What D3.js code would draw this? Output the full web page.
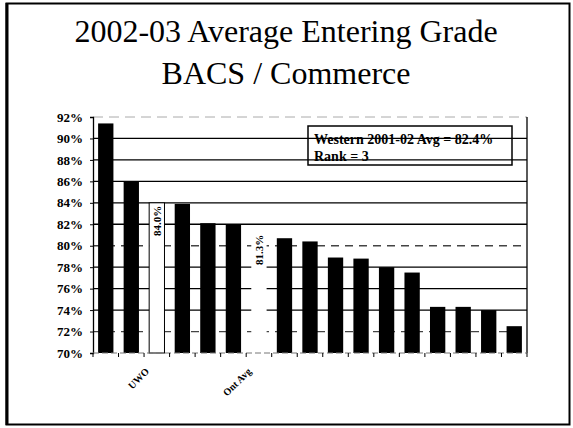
<!DOCTYPE html>
<html>
<head>
<meta charset="utf-8">
<script src="https://cdn.jsdelivr.net/npm/d3@7"></script>
<style>
  body { margin: 0; background: #fff; }
  svg { display: block; }
</style>
</head>
<body>
<script>
// chart data
const labels = ["", "", "UWO", "", "", "", "Ont Avg", "", "", "", "", "", "", "", "", "", ""];
const values = [91.4, 86.0, 84.0, 83.9, 82.1, 82.0, 81.3, 80.7, 80.4, 78.9, 78.8, 78.0, 77.5, 74.3, 74.3, 74.0, 72.5];
const yTicks = [70, 72, 74, 76, 78, 80, 82, 84, 86, 88, 90, 92];
const titleLines = ["2002-03 Average Entering Grade", "BACS / Commerce"];
const noteLines = ["Western 2001-02 Avg = 82.4%", "Rank = 3"];
const highlighted = ["UWO", "Ont Avg"];

const width = 573;
const height = 428;
const plot = { left: 93, right: 527, top: 117, bottom: 353 };
const serif = "'Liberation Serif', 'Times New Roman', serif";

const svg = d3.select("body")
    .append("svg")
    .attr("width", width)
    .attr("height", height);

// slide frame
svg.append("rect")
    .attr("x", 6.5)
    .attr("y", 3.5)
    .attr("width", 563)
    .attr("height", 421)
    .attr("fill", "#fff")
    .attr("stroke", "#000")
    .attr("stroke-width", 2);
svg.append("line")
    .attr("x1", 7).attr("x2", 7)
    .attr("y1", 3).attr("y2", 425)
    .attr("stroke", "#000")
    .attr("stroke-width", 3);

// title
svg.append("g")
    .selectAll("text")
    .data(titleLines)
    .enter()
    .append("text")
    .attr("x", 286)
    .attr("y", (d, i) => 42 + i * 42)
    .attr("text-anchor", "middle")
    .attr("font-family", serif)
    .attr("font-size", 32)
    .attr("fill", "#000")
    .text(d => d);

const x = d3.scaleBand()
    .domain(d3.range(values.length))
    .range([plot.left, plot.right])
    .paddingInner(0.4)
    .paddingOuter(0.2);

const y = d3.scaleLinear()
    .domain([70, 92])
    .range([plot.bottom, plot.top]);

// gridlines
svg.append("g")
    .selectAll("line")
    .data(yTicks.filter(t => t > 70))
    .enter()
    .append("line")
    .attr("x1", plot.left)
    .attr("x2", plot.right)
    .attr("y1", d => y(d))
    .attr("y2", d => y(d))
    .attr("stroke", d => d === 92 ? "#aaa" : (d === 80 || d === 72) ? "#444" : "#000")
    .attr("stroke-width", d => d === 92 ? 1 : 1.3)
    .attr("stroke-dasharray", d => d === 92 ? "10,6" : (d === 80 || d === 72) ? "8,6" : null);

// bars
const isHighlight = i => highlighted.includes(labels[i]);

svg.append("g")
    .selectAll("rect")
    .data(values)
    .enter()
    .append("rect")
    .attr("x", (d, i) => x(i))
    .attr("y", d => y(d))
    .attr("width", x.bandwidth())
    .attr("height", d => y(70) - y(d))
    .attr("fill", (d, i) => isHighlight(i) ? "#fff" : "#000")
    .attr("stroke", (d, i) => labels[i] === "UWO" ? "#000" : "none")
    .attr("stroke-width", 1);

// value labels on the white bars
svg.append("g")
    .selectAll("text")
    .data(values.map((v, i) => ({ v, i })).filter(d => isHighlight(d.i)))
    .enter()
    .append("text")
    .attr("transform", d => `translate(${x(d.i) + x.bandwidth() / 2 + 4},${y(d.v) + 3}) rotate(-90)`)
    .attr("text-anchor", "end")
    .attr("font-family", serif)
    .attr("font-weight", "bold")
    .attr("font-size", 11)
    .text(d => d3.format(".1f")(d.v) + "%");

// y axis
const yAxis = svg.append("g")
    .attr("transform", `translate(${plot.left},0)`)
    .call(d3.axisLeft(y)
        .tickValues(yTicks)
        .tickSize(3)
        .tickPadding(7)
        .tickFormat(d => d + "%"));
yAxis.select(".domain").attr("stroke", "#000").attr("stroke-width", 1.3);
yAxis.selectAll("text")
    .attr("font-family", serif)
    .attr("font-weight", "bold")
    .attr("font-size", 13)
    .attr("fill", "#000");

// right edge of the plot
svg.append("line")
    .attr("x1", plot.right).attr("x2", plot.right)
    .attr("y1", plot.top).attr("y2", plot.bottom)
    .attr("stroke", "#000")
    .attr("stroke-width", 1.3);

// baseline and category ticks
svg.append("line")
    .attr("x1", plot.left).attr("x2", plot.right)
    .attr("y1", y(70)).attr("y2", y(70))
    .attr("stroke", "#777")
    .attr("stroke-width", 1)
    .attr("stroke-dasharray", "6,3");

svg.append("g")
    .selectAll("line")
    .data(d3.range(values.length + 1))
    .enter()
    .append("line")
    .attr("x1", i => plot.left + i * x.step())
    .attr("x2", i => plot.left + i * x.step())
    .attr("y1", y(70))
    .attr("y2", y(70) + 4)
    .attr("stroke", "#000");

// category labels
svg.append("g")
    .selectAll("text")
    .data(labels.map((l, i) => ({ l, i })).filter(d => d.l))
    .enter()
    .append("text")
    .attr("transform", d => `translate(${x(d.i) + x.bandwidth() / 2 - 7},${y(70) + 19}) rotate(-45)`)
    .attr("text-anchor", "end")
    .attr("font-family", serif)
    .attr("font-weight", "bold")
    .attr("font-size", 10)
    .text(d => d.l);

// note box
svg.append("rect")
    .attr("x", 308)
    .attr("y", 126)
    .attr("width", 204)
    .attr("height", 39)
    .attr("fill", "none")
    .attr("stroke", "#000")
    .attr("stroke-width", 1.5);

svg.append("g")
    .selectAll("text")
    .data(noteLines)
    .enter()
    .append("text")
    .attr("x", 314)
    .attr("y", (d, i) => 144 + i * 17)
    .attr("font-family", serif)
    .attr("font-weight", "bold")
    .attr("font-size", 14)
    .text(d => d);
</script>
</body>
</html>
